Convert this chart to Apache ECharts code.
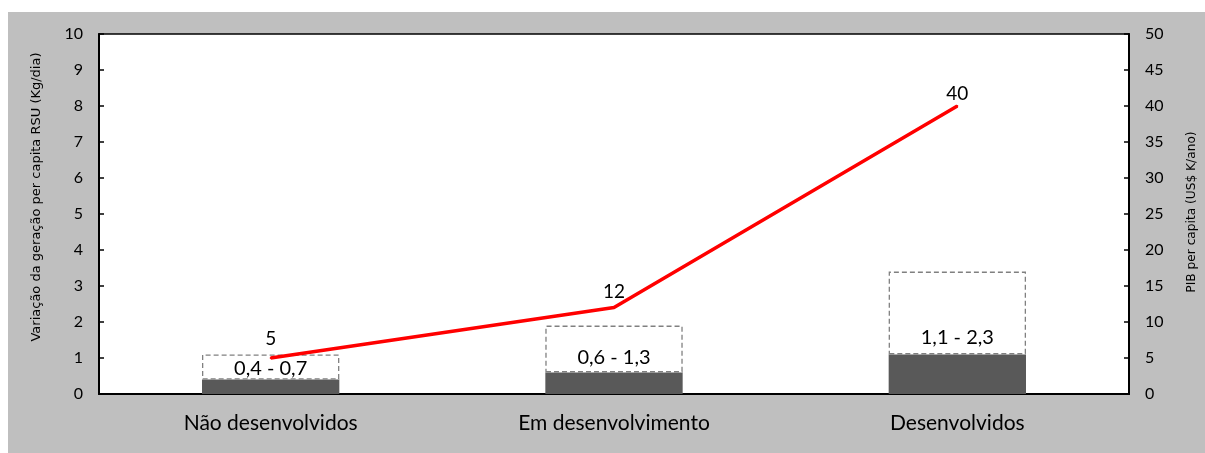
<!DOCTYPE html>
<html>
<head>
<meta charset="utf-8">
<script src="https://cdn.jsdelivr.net/npm/echarts@6/dist/echarts.min.js"></script>
<style>
html,body{margin:0;padding:0;background:#fff;width:1205px;height:453px;overflow:hidden;}
#c{position:absolute;left:8px;top:12px;width:1197px;height:441px;}
</style>
</head>
<body>
<div id="c"></div>
<script>
const categories = ['Não desenvolvidos', 'Em desenvolvimento', 'Desenvolvidos'];
const baseValues = [0.4, 0.6, 1.1];
const rangeValues = [0.7, 1.3, 2.3];
const rangeLabels = ['0,4 - 0,7', '0,6 - 1,3', '1,1 - 2,3'];
const pibValues = [5, 12, 40];
const leftTitle = 'Variação da geração per capita RSU (Kg/dia)';
const rightTitle = 'PIB per capita (US$ K/ano)';

const labelOffsets = [[0, 4], [0, 0], [0, -2]];
const lineLabelDist = [9, 5, 2];

const chart = echarts.init(document.getElementById('c'));
const font = 'Lato';
chart.setOption({
  backgroundColor: '#bfbfbf',
  animation: false,
  grid: {left: 91, top: 22, right: 76, bottom: 59, show: true, backgroundColor: '#fff', borderColor: '#000', borderWidth: 1.5},
  xAxis: {
    type: 'category', data: categories,
    axisLine: {lineStyle: {color: '#000', width: 2}},
    axisTick: {show: false},
    axisLabel: {color: '#000', fontFamily: font, fontSize: 21, margin: 19}
  },
  yAxis: [
    {type: 'value', min: 0, max: 10, interval: 1,
     axisLine: {show: true, lineStyle: {color: '#000', width: 2}},
     axisTick: {show: true, inside: true, length: 5, lineStyle: {color: '#000', width: 1.5}},
     splitLine: {show: false},
     axisLabel: {color: '#000', fontFamily: font, fontSize: 16, margin: 16}},
    {type: 'value', min: 0, max: 50, interval: 5, position: 'right',
     axisLine: {show: true, lineStyle: {color: '#000', width: 2}},
     axisTick: {show: true, inside: true, length: 5, lineStyle: {color: '#000', width: 1.5}},
     splitLine: {show: false},
     axisLabel: {color: '#000', fontFamily: font, fontSize: 16, margin: 16}}
  ],
  graphic: [
    {type: 'text', x: 29, y: 185, rotation: Math.PI / 2, z: 10,
     style: {text: leftTitle, fill: '#000', fontFamily: 'DejaVu Sans', fontSize: 13, align: 'center', verticalAlign: 'middle'}},
    {type: 'text', x: 1184, y: 200, rotation: Math.PI / 2, z: 10,
     style: {text: rightTitle, fill: '#000', fontFamily: 'DejaVu Sans', fontSize: 12.2, align: 'center', verticalAlign: 'middle'}}
  ],
  series: [
    {type: 'bar', stack: 'r', barWidth: '40%', data: baseValues,
     itemStyle: {color: '#595959'}},
    {type: 'bar', stack: 'r', barWidth: '40%',
     data: rangeValues.map((v, i) => ({value: v, label: {offset: labelOffsets[i]}})),
     itemStyle: {color: '#fff', borderColor: '#808080', borderWidth: 1.3, borderType: [5, 3]},
     label: {show: true, position: 'insideBottom', distance: 5, color: '#000', fontFamily: font, fontSize: 20,
             formatter: p => rangeLabels[p.dataIndex]}},
    {type: 'line', yAxisIndex: 1, z: 5, showSymbol: true, symbol: 'circle', symbolSize: 2,
     data: pibValues.map((v, i) => ({value: v, label: {distance: lineLabelDist[i]}})),
     itemStyle: {color: '#ff0000'},
     lineStyle: {color: '#ff0000', width: 3.5},
     label: {show: true, position: 'top', color: '#000', fontFamily: font, fontSize: 19}}
  ]
});
</script>
</body>
</html>
